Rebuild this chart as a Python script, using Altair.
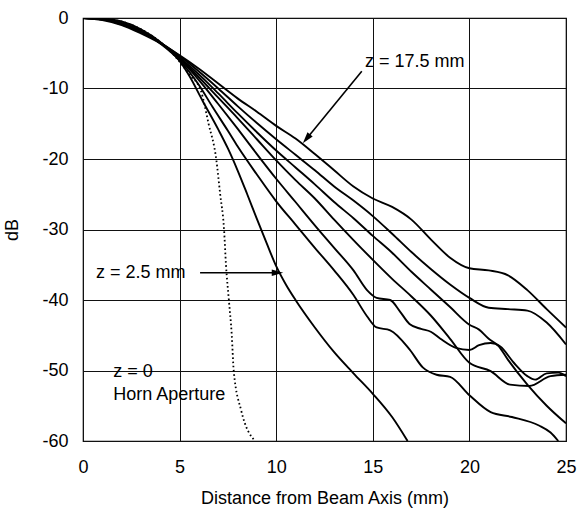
import altair as alt
import pandas as pd

# ---- data ----
x_z175 = [0, 1, 2, 3, 4, 5, 6, 7, 8, 9, 10, 11, 12, 13, 14, 15, 16, 17, 18, 19, 20, 21, 22, 23, 24, 25]
y_z175 = [0, -0.3, -1.0, -2.2, -3.6, -5.3, -7.2, -9.3, -11.4, -13.3, -15.3, -17.1, -19.3, -21.6, -23.9,
          -25.6, -26.8, -28.6, -31.4, -34.0, -35.5, -35.8, -36.5, -38.6, -41.3, -43.9]

x_z15 = [0, 1, 2, 3, 4, 5, 6, 7, 8, 9, 10, 11, 12, 13, 14, 15, 16, 17, 18, 19, 20, 21, 22, 23, 24, 25]
y_z15 = [0, -0.2, -0.9, -2.0, -3.5, -5.4, -7.6, -10.0, -12.5, -14.9, -17.2, -19.4, -21.6, -23.9, -25.9,
         -28.1, -30.6, -33.2, -35.6, -37.8, -39.7, -41.1, -41.3, -41.5, -43.2, -46.3]

x_z125 = [0, 1, 2, 3, 4, 5, 6, 7, 8, 9, 10, 11, 12, 13, 14, 15, 16, 17, 18, 19, 20, 20.5, 21, 21.5, 22, 23, 24, 25]
y_z125 = [0, -0.2, -0.9, -2.0, -3.5, -5.6, -8.0, -10.7, -13.5, -16.2, -18.8, -21.2, -23.6, -26.1, -28.4,
          -30.9, -33.3, -36.0, -38.5, -41.0, -43.5, -44.2, -45.5, -46.5, -48.5, -52.0, -55.0, -57.5]

x_z10 = [0, 1, 2, 3, 4, 5, 6, 7, 8, 9, 10, 11, 12, 13, 14, 15, 16, 17, 18, 19, 20, 21.1, 22.1, 23.1, 24.2, 25]
y_z10 = [0, -0.2, -0.9, -2.0, -3.5, -5.7, -8.4, -11.3, -14.2, -17.2, -20.2, -23.0, -25.6, -28.6, -31.5,
         -34.3, -37.0, -39.5, -42.2, -45.5, -48.9, -50.1, -52.0, -52.2, -50.8, -50.6]

x_z75 = [0, 1, 2, 3, 4, 5, 6, 7, 8, 9, 10, 11, 12, 13, 14, 14.7, 15.2, 15.9, 16.4, 16.9, 17.5, 18, 18.5,
         19.3, 20, 20.5, 21.1, 21.6, 22.3, 23, 23.4, 24, 24.6, 25]
y_z75 = [0, -0.2, -0.8, -1.9, -3.5, -5.8, -8.8, -12.2, -15.7, -19.3, -22.8, -26.1, -29.4, -32.6, -35.8,
         -38.6, -39.7, -40.0, -41.6, -43.4, -44.1, -44.5, -45.5, -46.8, -47.1, -46.4, -46.1, -46.6, -48.9,
         -50.8, -51.3, -50.4, -50.3, -50.8]

x_z5 = [0, 1, 2, 3, 4, 5, 6, 6.7, 7.5, 8, 9, 10, 11, 12, 13, 14, 14.7, 15.2, 15.9, 16.9, 17.6, 18.3, 19,
        20, 21.1, 22.2, 23.6, 24.2, 24.6]
y_z5 = [0, -0.15, -0.7, -1.8, -3.6, -6.0, -9.5, -12.6, -16.0, -18.2, -22.2, -26.0, -29.3, -32.6, -35.8,
        -39.3, -42.3, -43.9, -44.3, -47.0, -49.6, -50.6, -50.9, -53.5, -55.9, -56.6, -57.8, -58.8, -60.0]

x_z25 = [0, 1, 2, 3, 4, 5, 5.5, 6.2, 7, 7.5, 8, 8.5, 9, 9.5, 10, 10.5, 11, 12, 13, 14, 15, 16, 16.8]
y_z25 = [0, -0.1, -0.5, -1.6, -3.4, -6.1, -8.2, -11.8, -15.8, -18.5, -21.6, -25.0, -28.5, -31.9, -35.2,
         -37.8, -40.0, -43.9, -47.4, -50.4, -53.3, -56.6, -60.0]

x_z0 = [0, 1, 2, 3, 4, 5, 5.5, 6.1, 6.5, 6.9, 7.1, 7.3, 7.4, 7.55, 7.7, 7.8, 8.2, 8.9]
y_z0 = [0, -0.1, -0.5, -1.6, -3.4, -6.2, -8.0, -10.3, -15.0, -20.1, -25.0, -30.0, -35.0, -40.0, -45.0,
        -50.0, -55.8, -60.0]

solid_series = [
    ("z=17.5", x_z175, y_z175),
    ("z=15", x_z15, y_z15),
    ("z=12.5", x_z125, y_z125),
    ("z=10", x_z10, y_z10),
    ("z=7.5", x_z75, y_z75),
    ("z=5", x_z5, y_z5),
    ("z=2.5", x_z25, y_z25),
]

label_text = ["z = 17.5 mm", "z = 2.5 mm", "z = 0", "Horn Aperture"]
label_x = [14.6, 0.67, 1.56, 1.56]
label_y = [-6.2, -36.1, -50.2, -53.5]

arrow_x = [14.43, 6.06]
arrow_y = [-7.55, -36.14]
arrow_x2 = [11.55, 9.9]
arrow_y2 = [-17.2, -36.14]
head_x = [11.62, 9.98]
head_y = [-16.95, -36.14]
head_angle = [219, 90]

x_ticks = [0, 5, 10, 15, 20, 25]
y_ticks = [-60, -50, -40, -30, -20, -10, 0]

# ---- build tables ----
rows = []
for name, xs, ys in solid_series:
    for i, (xv, yv) in enumerate(zip(xs, ys)):
        rows.append({"series": name, "x": xv, "y": yv, "i": i})
df_solid = pd.DataFrame(rows)
df_dot = pd.DataFrame({"x": x_z0, "y": y_z0})
df_text = pd.DataFrame({"x": label_x, "y": label_y, "text": label_text})
df_arrow = pd.DataFrame({"x": arrow_x, "y": arrow_y, "x2": arrow_x2, "y2": arrow_y2})
df_head = pd.DataFrame({"x": head_x, "y": head_y, "angle": head_angle})

FONT = "Liberation Sans"

xscale = alt.Scale(domain=[0, 25], nice=False, zero=False)
yscale = alt.Scale(domain=[-60, 0], nice=False, zero=False)

xaxis = alt.Axis(
    values=x_ticks, grid=True, gridColor="#111111", gridWidth=1, gridOpacity=1,
    ticks=False, tickSize=0, domain=False, labelFont=FONT, labelFontSize=18,
    labelColor="black", labelPadding=17, labelFlush=False, labelOverlap=False,
    title="Distance from Beam Axis (mm)", titleFont=FONT, titleFontSize=18,
    titleFontWeight="normal", titleColor="black", titleX=241.5, titleY=57,
    titleBaseline="middle", titleAlign="center",
)
yaxis = alt.Axis(
    values=y_ticks, grid=True, gridColor="#111111", gridWidth=1, gridOpacity=1,
    ticks=False, tickSize=0, domain=False, labelFont=FONT, labelFontSize=18,
    labelColor="black", labelPadding=15, labelFlush=False, labelOverlap=False,
    labelExpr="datum.value == 0 ? '0' : '-' + abs(datum.value)",
    title="dB", titleFont=FONT, titleFontSize=18, titleFontWeight="normal",
    titleColor="black", titleX=-71, titleY=211.5, titleAngle=-90,
    titleBaseline="middle", titleAlign="center",
)

solid = alt.Chart(df_solid).mark_line(
    interpolate="monotone", color="black", strokeWidth=1.9, clip=True
).encode(
    x=alt.X("x:Q", scale=xscale, axis=xaxis),
    y=alt.Y("y:Q", scale=yscale, axis=yaxis),
    detail="series:N",
    order="i:Q",
)

dotted = alt.Chart(df_dot).mark_line(
    interpolate="monotone", color="black", strokeWidth=1.8, strokeDash=[1.6, 2.6], clip=True
).encode(x=alt.X("x:Q", scale=xscale), y=alt.Y("y:Q", scale=yscale))

texts = alt.Chart(df_text).mark_text(
    align="left", baseline="middle", font=FONT, fontSize=18, color="black"
).encode(x=alt.X("x:Q", scale=xscale), y=alt.Y("y:Q", scale=yscale), text="text:N")

arrows = alt.Chart(df_arrow).mark_rule(color="black", strokeWidth=1.6).encode(
    x=alt.X("x:Q", scale=xscale), y=alt.Y("y:Q", scale=yscale), x2="x2:Q", y2="y2:Q"
)

heads = alt.Chart(df_head).mark_point(
    shape="M0,-1L0.45,0.55L-0.45,0.55Z", filled=True, color="black", size=220, opacity=1
).encode(
    x=alt.X("x:Q", scale=xscale), y=alt.Y("y:Q", scale=yscale),
    angle=alt.Angle("angle:Q", scale=None),
)

chart = alt.layer(solid, dotted, arrows, heads, texts).properties(
    width=483, height=423,
    autosize=alt.AutoSizeParams(type="none"),
    padding={"left": 83, "top": 18, "right": 13, "bottom": 71},
    background="white",
).configure_view(stroke="black", strokeWidth=1.2)

chart.save("out.html", embed_options={"renderer": "svg", "actions": False})
